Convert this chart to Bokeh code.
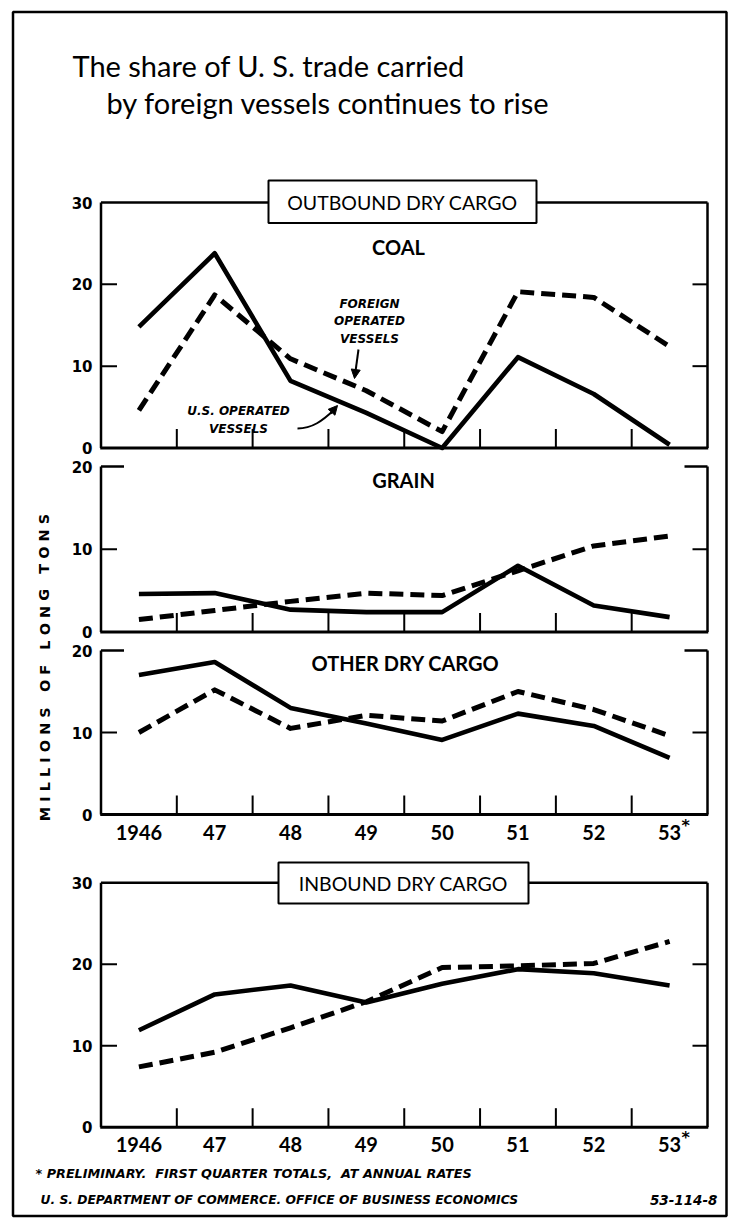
import numpy as np
from bokeh.plotting import figure
from bokeh.models import Range1d, Arrow, NormalHead
from bokeh.core.properties import value
from bokeh.embed import file_html
from bokeh.resources import INLINE

# ---------------- data ----------------
years = ["1946", "47", "48", "49", "50", "51", "52", "53"]
coal_us = [14.8, 23.8, 8.2, 4.3, 0.0, 11.1, 6.6, 0.4]
coal_foreign = [4.6, 18.7, 10.9, 7.0, 2.0, 19.1, 18.4, 12.4]
grain_us = [4.6, 4.7, 2.7, 2.4, 2.4, 8.0, 3.2, 1.8]
grain_foreign = [1.5, 2.6, 3.7, 4.7, 4.4, 7.4, 10.4, 11.6]
other_us = [17.0, 18.6, 13.0, 11.1, 9.1, 12.3, 10.8, 6.9]
other_foreign = [10.0, 15.2, 10.5, 12.1, 11.4, 15.0, 12.8, 9.6]
inbound_us = [11.9, 16.3, 17.4, 15.3, 17.6, 19.4, 18.9, 17.4]
inbound_foreign = [7.4, 9.2, 12.2, 15.4, 19.6, 19.8, 20.1, 22.8]
coal_ticks = [0, 10, 20, 30]
grain_ticks = [0, 10, 20]
other_ticks = [0, 10, 20]
inbound_ticks = [0, 10, 20, 30]

title_lines = ["The share of U. S. trade carried", "by foreign vessels continues to rise"]
NB = "\u00a0"
footnote = "* PRELIMINARY." + NB * 2 + "FIRST QUARTER TOTALS," + NB * 2 + "AT ANNUAL RATES"
source = "U. S. DEPARTMENT OF COMMERCE. OFFICE OF BUSINESS ECONOMICS"
code = "53-114-8"
axis_title = "MILLIONS OF LONG TONS"

# ---------------- layout helpers ----------------
W, H = 730, 1220
FONT = value("Lato")
WIDE = value("DejaVu Sans")

def spaced(s):
    words = s.split(" ")
    return (NB * 3).join(NB.join(list(w)) for w in words)

xs = np.arange(len(years))
FR_L, FR_R = 100.5, 707.0            # page x of frame edges
px_per_x = (FR_R - FR_L) / len(years)
x_lo = -0.5 - FR_L / px_per_x
x_hi = x_lo + W / px_per_x

panels = {
    # name: (page y at 0, page y at top value, top value)
    "coal": (447.5, 202.0, 30),
    "grain": (631.5, 466.0, 20),
    "other": (814.0, 650.0, 20),
    "inbound": (1126.7, 882.3, 30),
}

p = figure(width=W, height=H, x_range=Range1d(0, W), y_range=Range1d(H, 0),
           x_axis_type=None, y_axis_type=None, min_border=0,
           output_backend="svg", toolbar_location=None)
p.grid.visible = False
p.outline_line_color = None
p.background_fill_color = "white"
p.border_fill_color = "white"
p.extra_x_ranges = {"yr": Range1d(x_lo, x_hi)}
yr_px = {}
for name, (py0, py1, top) in panels.items():
    k = (py0 - py1) / top
    yr_px[name] = k
    p.extra_y_ranges[name] = Range1d(0 - (H - py0) / k, top + py1 / k)

# outer border
p.quad(left=12.5, right=726.0, top=11.5, bottom=1215.5, fill_color=None,
       line_color="black", line_width=2.5)

# ---------------- title ----------------
p.text(x=[72, 106], y=[65, 102], text=title_lines, text_font=FONT,
       text_font_size="29px", text_color="black", text_baseline="alphabetic",
       text_align="left")

# ---------------- panels ----------------
series = {
    "coal": (coal_us, coal_foreign, coal_ticks, "full"),
    "grain": (grain_us, grain_foreign, grain_ticks, "stub"),
    "other": (other_us, other_foreign, other_ticks, "stub"),
    "inbound": (inbound_us, inbound_foreign, inbound_ticks, "full"),
}
L, R = -0.5, len(years) - 0.5
for name, (us, fo, ticks, top_kind) in series.items():
    k = yr_px[name]
    top = ticks[-1]
    kw = dict(x_range_name="yr", y_range_name=name)
    # frame
    p.line([L, L], [0, top], line_color="black", line_width=2.5, **kw)
    p.line([R, R], [0, top], line_color="black", line_width=2.5, **kw)
    p.line([L - 0.01, R + 0.01], [0, 0], line_color="black", line_width=3, **kw)
    if top_kind == "full":
        p.line([L, R], [top, top], line_color="black", line_width=2.5, **kw)
    else:
        stub = 23 / px_per_x
        p.line([L, L + stub], [top, top], line_color="black", line_width=2.5, **kw)
        p.line([R - stub, R], [top, top], line_color="black", line_width=2.5, **kw)
    # bottom ticks at category boundaries
    bx = xs[:-1] + 0.5
    p.segment(x0=bx, y0=[0] * len(bx), x1=bx, y1=[19 / k] * len(bx),
              line_color="black", line_width=2, **kw)
    # y ticks (inner marks, both sides)
    inner = [t for t in ticks if 0 < t < top]
    p.segment(x0=[L] * len(inner), y0=inner, x1=[L + 16 / px_per_x] * len(inner), y1=inner,
              line_color="black", line_width=2, **kw)
    p.segment(x0=[R] * len(inner), y0=inner, x1=[R - 15 / px_per_x] * len(inner), y1=inner,
              line_color="black", line_width=2, **kw)
    # y tick labels
    p.text(x=[92] * len(ticks), y=ticks, text=[str(t) for t in ticks],
           y_range_name=name, text_font=WIDE, text_font_style="bold",
           text_font_size="15px", text_align="right", text_baseline="middle")
    # data lines
    p.line(xs, us, line_color="black", line_width=4.6, line_join="round", **kw)
    p.line(xs, fo, line_color="black", line_width=5, line_dash="14 7",
           line_join="round", **kw)

# panel captions
p.text(x=[398, 403, 405], y=[246, 479, 662], text=["COAL", "GRAIN", "OTHER DRY CARGO"],
       text_font=FONT, text_font_style="bold", text_font_size="20px", text_align="center",
       text_baseline="middle")

# group title boxes
p.quad(left=[268, 278], right=[536, 528], top=[180, 862], bottom=[222.5, 903],
       fill_color="white", line_color="black", line_width=2)
p.text(x=[402, 403], y=[202, 883], text=["OUTBOUND DRY CARGO", "INBOUND DRY CARGO"],
       text_font=FONT, text_font_size="19.5px", text_align="center", text_baseline="middle")

# year labels under OTHER and INBOUND panels
for name, ly in (("other", 832), ("inbound", 1144)):
    p.text(x=xs, y=[ly] * len(xs), text=years, x_range_name="yr", text_font=FONT,
           text_font_style="bold", text_font_size="20px", text_align="center",
           text_baseline="middle")
    p.text(x=[xs[-1]], y=[ly], text=["*"], x_range_name="yr", x_offset=[16], y_offset=[-7],
           text_font=WIDE, text_font_style="bold", text_font_size="16px",
           text_align="center", text_baseline="middle")

# vertical axis title
p.text(x=[44], y=[667], text=[spaced(axis_title)],
       angle=[np.pi / 2], text_font=WIDE, text_font_style="bold", text_font_size="14.5px",
       text_align="center", text_baseline="middle")

# series annotations in coal panel
p.text(x=[369, 369, 369], y=[303, 320.5, 338], text=["FOREIGN", "OPERATED", "VESSELS"],
       text_font=WIDE, text_font_style="bold italic", text_font_size="12px",
       text_align="center", text_baseline="middle")
p.add_layout(Arrow(end=NormalHead(size=9, fill_color="black", line_color="black"),
                   x_start=358, y_start=349, x_end=354, y_end=378,
                   line_color="black", line_width=2))
p.text(x=[238, 238], y=[410, 428], text=["U.S. OPERATED", "VESSELS"],
       text_font=WIDE, text_font_style="bold italic", text_font_size="12px",
       text_align="center", text_baseline="middle")
p.bezier(x0=[297], y0=[428], x1=[333], y1=[410], cx0=[312], cy0=[428],
         cx1=[322], cy1=[420], line_color="black", line_width=2)
p.add_layout(Arrow(end=NormalHead(size=9, fill_color="black", line_color="black"),
                   x_start=330, y_start=413, x_end=337, y_end=405,
                   line_color="black", line_width=2))

# footer
p.text(x=[35], y=[1172.5], text=[footnote], text_font=WIDE, text_font_style="bold italic",
       text_font_size="12.8px", text_align="left", text_baseline="middle")
p.text(x=[40], y=[1199.5], text=[source], text_font=WIDE, text_font_style="bold italic",
       text_font_size="12.3px", text_align="left", text_baseline="middle")
p.text(x=[717], y=[1199.5], text=[code], text_font=WIDE, text_font_style="bold italic",
       text_font_size="13.5px", text_align="right", text_baseline="middle")

open("out.html", "w").write(file_html(p, INLINE))
